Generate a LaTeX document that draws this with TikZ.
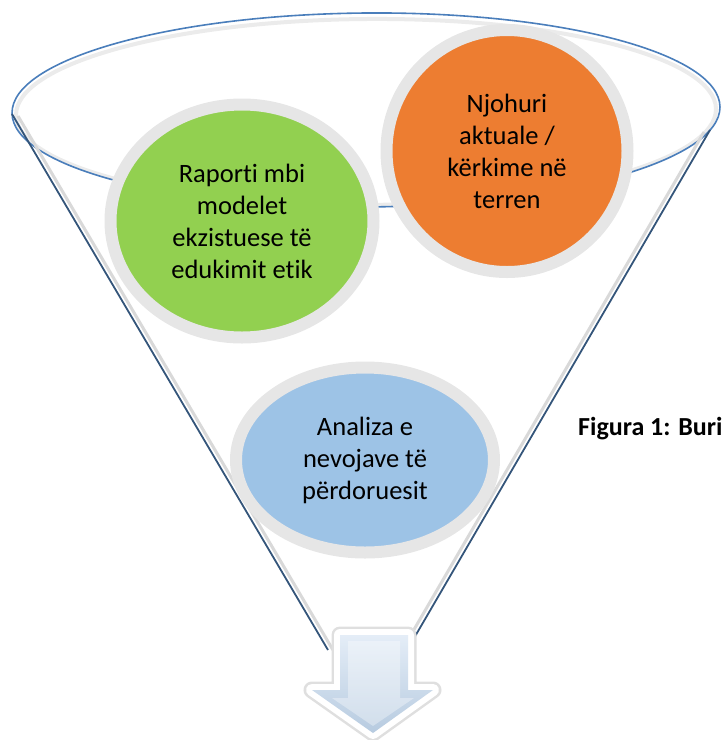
\documentclass[tikz,border=0pt]{standalone}
\usepackage{fontspec}
\setmainfont{Carlito}[Ligatures=NoCommon]
\usetikzlibrary{shapes.geometric,calc}

\definecolor{rimblue}{HTML}{4A7EBB}
\definecolor{sideblue}{HTML}{34557A}
\definecolor{ringgray}{HTML}{E6E6E6}
\definecolor{greenfill}{HTML}{92D050}
\definecolor{orangefill}{HTML}{ED7D31}
\definecolor{bluefill}{HTML}{9DC3E6}
\definecolor{arrowtop}{HTML}{E4EDF7}
\definecolor{arrowbot}{HTML}{B7CBE0}

\tikzset{
  bubble/.style={ellipse, draw=ringgray, line width=12pt, inner sep=0pt,
    align=center, font=\fontsize{26.5}{32}\selectfont},
}

\begin{document}
\begin{tikzpicture}[x=1pt,y=-1pt]
  \useasboundingbox (0,0) rectangle (722,740);
  \pgfmathsetmacro\rimx{354}
  \pgfmathsetmacro\rimy{97}

% funnel rim
  \draw[gray!40,line width=4pt,opacity=0.4,rotate around={0.5:(366,110)}]
    (366,112) ellipse [x radius=\rimx pt-4pt, y radius=\rimy pt-4pt];
  \draw[rimblue,line width=1.6pt,rotate around={0.5:(366,110)}]
    (366,110) ellipse [x radius=\rimx pt, y radius=\rimy pt];

% funnel sides
  \coordinate (rimL) at (12,114);
  \coordinate (rimR) at (710,130);
  \coordinate (neckL) at (328,650);
  \coordinate (neckR) at (410,645);
  \draw[gray!30,line width=3pt] ($(rimL)+(6,2)$) -- ($(neckL)+(5,0)$);
  \draw[gray!30,line width=3pt] ($(rimR)+(-6,2)$) -- ($(neckR)+(-5,0)$);
  \draw[sideblue,line width=1.8pt] (rimL) -- (neckL);
  \draw[sideblue,line width=1.8pt] (rimR) -- (neckR);

% the three bubbles
  \node[bubble, fill=greenfill, minimum width=263pt, minimum height=233pt]
    (raporti) at (242,221) {Raporti mbi\\modelet\\ekzistuese të\\edukimit etik};
  \node[bubble, fill=orangefill, minimum width=241pt, minimum height=242pt]
    (njohuri) at (507,151) {Njohuri\\aktuale /\\kërkime në\\terren};
  \node[bubble, fill=bluefill, minimum width=258pt, minimum height=185pt]
    (analiza) at (365,460) {Analiza e\\nevojave të\\përdoruesit};

% caption at right
  \node[anchor=base west, inner sep=0pt, font=\fontsize{26}{30}\selectfont\bfseries]
    (caption) at (578,435) {Figura 1: Buri};

% arrow out of the funnel
  \draw[gray!25,line width=17pt,line join=round]
    (340,635) -- (408,635) -- (408,690) -- (433,690) -- (373,733) -- (312,690) -- (340,690) -- cycle;
  \draw[white,line width=12pt,line join=round]
    (340,635) -- (408,635) -- (408,690) -- (433,690) -- (373,733) -- (312,690) -- (340,690) -- cycle;
  \shade[top color=arrowtop,bottom color=arrowbot]
    (340,635) -- (408,635) -- (408,690) -- (433,690) -- (373,733) -- (312,690) -- (340,690) -- cycle;
  \fill[white,opacity=0.35]
    (348,641) -- (400,641) -- (400,698) -- (414,698) -- (373,726) -- (332,698) -- (348,698) -- cycle;
\end{tikzpicture}
\end{document}
